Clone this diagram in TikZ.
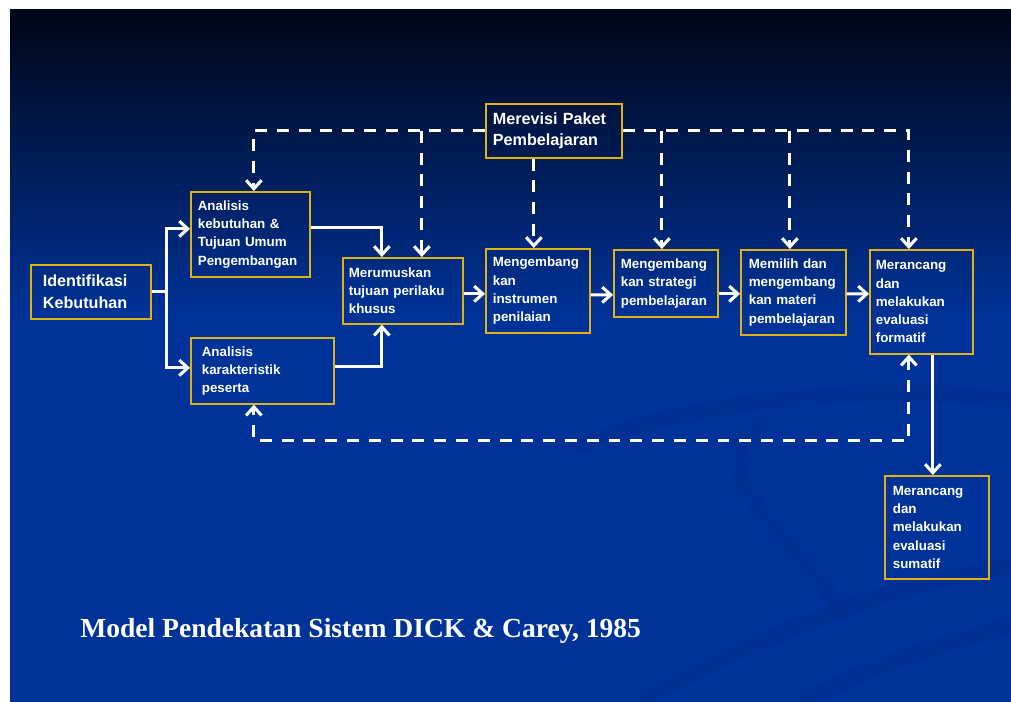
\documentclass[tikz,border=0pt]{standalone}
\usepackage{fontspec}
\setmainfont{Liberation Serif}
\newfontfamily\boxfont{Liberation Sans}
\usetikzlibrary{arrows.meta}
\definecolor{slideblue}{RGB}{0,51,153}
\definecolor{slidetop}{RGB}{0,6,22}
\definecolor{swirl}{RGB}{0,40,130}
\definecolor{boxline}{RGB}{222,178,18}
\newlength\pxu
\setlength\pxu{0.025cm}
\hyphenpenalty=10000

\begin{document}
\begin{tikzpicture}[x=0.025cm, y=-0.025cm,
  >={Straight Barb[length=6pt, width=11pt]},
  box/.style={draw=boxline, line width=1.2pt, text=white, align=left, anchor=north west,
    inner xsep=7\pxu, inner ysep=1pt, font=\boxfont\bfseries\fontsize{9.5}{13}\selectfont},
  bigbox/.style={box, font=\boxfont\bfseries\fontsize{11.5}{15.5}\selectfont},
  link/.style={draw=white, line width=2.2pt},
  arr/.style={link, ->},
  dline/.style={arr, dash pattern=on 8.5pt off 7pt},
  swoosh/.style={draw=swirl, line width=12pt, opacity=.25, line cap=round}]
  \useasboundingbox (0,0) rectangle (1011,702);
  \fill[white] (0,0) rectangle (1011,702);
  \fill[slideblue] (10,10) rectangle (1011,702);
  \shade[top color=slidetop, bottom color=slideblue] (10,10) rectangle (1011,320);
  % faint swirls behind the diagram
  \draw[swoosh] (580,445) .. controls (700,395) and (900,385) .. (1011,400);
  \draw[swoosh] (760,425) .. controls (690,470) and (800,540) .. (840,610);
  \draw[swoosh] (640,702) .. controls (790,620) and (900,585) .. (1011,565);
  \draw[swoosh] (800,702) .. controls (890,660) .. (1011,625);

  \node[bigbox, inner xsep=12\pxu, text width=96\pxu, minimum height=54\pxu] (ident) at (30,264) {Identifikasi\\Kebutuhan};
  \node[box, text width=105\pxu, minimum height=85\pxu] (anakeb) at (190,191) {Analisis\\kebutuhan \&\\Tujuan Umum\\Pengembangan};
  \node[box, inner xsep=11\pxu, text width=121\pxu, minimum height=66\pxu] (anakar) at (190,337) {Analisis\\karakteristik\\peserta};
  \node[box, inner xsep=6\pxu, text width=108\pxu, minimum height=66\pxu] (rumus) at (342,257) {Merumuskan\\tujuan perilaku\\khusus};
  \node[bigbox, text width=122\pxu, minimum height=54\pxu] (revisi) at (485,103) {Merevisi Paket\\Pembelajaran};
  \node[box, text width=90\pxu, minimum height=84\pxu] (instrumen) at (485,248) {Mengembang\\kan\\instrumen\\penilaian};
  \node[box, text width=90\pxu, minimum height=67\pxu] (strategi) at (613,249) {Mengembang\\kan strategi\\pembelajaran};
  \node[box, inner xsep=8\pxu, text width=89\pxu, minimum height=85\pxu] (materi) at (740,249) {Memilih dan\\mengembang\\kan materi\\pembelajaran};
  \node[box, inner xsep=6\pxu, text width=91\pxu, minimum height=104\pxu] (formatif) at (869,249) {Merancang\\dan\\melakukan\\evaluasi\\formatif};
  \node[box, inner xsep=8\pxu, text width=88\pxu, minimum height=103\pxu] (sumatif) at (884,475) {Merancang\\dan\\melakukan\\evaluasi\\sumatif};

  \node[anchor=base west, inner sep=0, text=white, font=\bfseries\fontsize{19.6}{23}\selectfont] (title) at (80,637) {Model Pendekatan Sistem DICK \& Carey, 1985};

  % main flow
  \draw[link] (ident.east) -- ++(15,0) coordinate (split);
  \draw[arr] (split) |- ([yshift=5.5\pxu]anakeb.west);
  \draw[arr] (split) |- ([yshift=3\pxu]anakar.west);
  \draw[arr] ([yshift=6.5\pxu]anakeb.east) -| ([xshift=-21\pxu]rumus.north);
  \draw[arr] ([yshift=4\pxu]anakar.east) -| ([xshift=-21\pxu]rumus.south);
  \draw[arr] ([yshift=-3\pxu]rumus.east) -- ([yshift=-3\pxu]instrumen.west);
  \draw[arr] ([yshift=-4\pxu]instrumen.east) -- ([yshift=-11.5\pxu]strategi.west);
  \draw[arr] ([yshift=-10.5\pxu]strategi.east) -- ([yshift=-1.5\pxu]materi.west);
  \draw[arr] ([yshift=-1.5\pxu]materi.east) -- ([yshift=8\pxu]formatif.west);
  \draw[arr] ([xshift=-4\pxu]sumatif.north |- formatif.south) -- ([xshift=-4\pxu]sumatif.north);

  % revision loops
  \draw[dline] (revisi.west) -| ([xshift=3.5\pxu]anakeb.north);
  \draw[dline] ([xshift=19\pxu]rumus.north |- revisi.west) -- ([xshift=19\pxu]rumus.north);
  \draw[dline] ([xshift=-4\pxu]instrumen.north |- revisi.south) -- ([xshift=-4\pxu]instrumen.north);
  \draw[dline] (revisi.east) -| ([xshift=-12.5\pxu]formatif.north);
  \draw[dline] ([xshift=-4\pxu]strategi.north |- revisi.east) -- ([xshift=-4\pxu]strategi.north);
  \draw[dline] ([xshift=-3.5\pxu]materi.north |- revisi.east) -- ([xshift=-3.5\pxu]materi.north);
  \draw[dline, <->] ([xshift=-12.5\pxu]formatif.south) -- ++(0,86) -| ([xshift=-8.5\pxu]anakar.south);
\end{tikzpicture}
\end{document}
